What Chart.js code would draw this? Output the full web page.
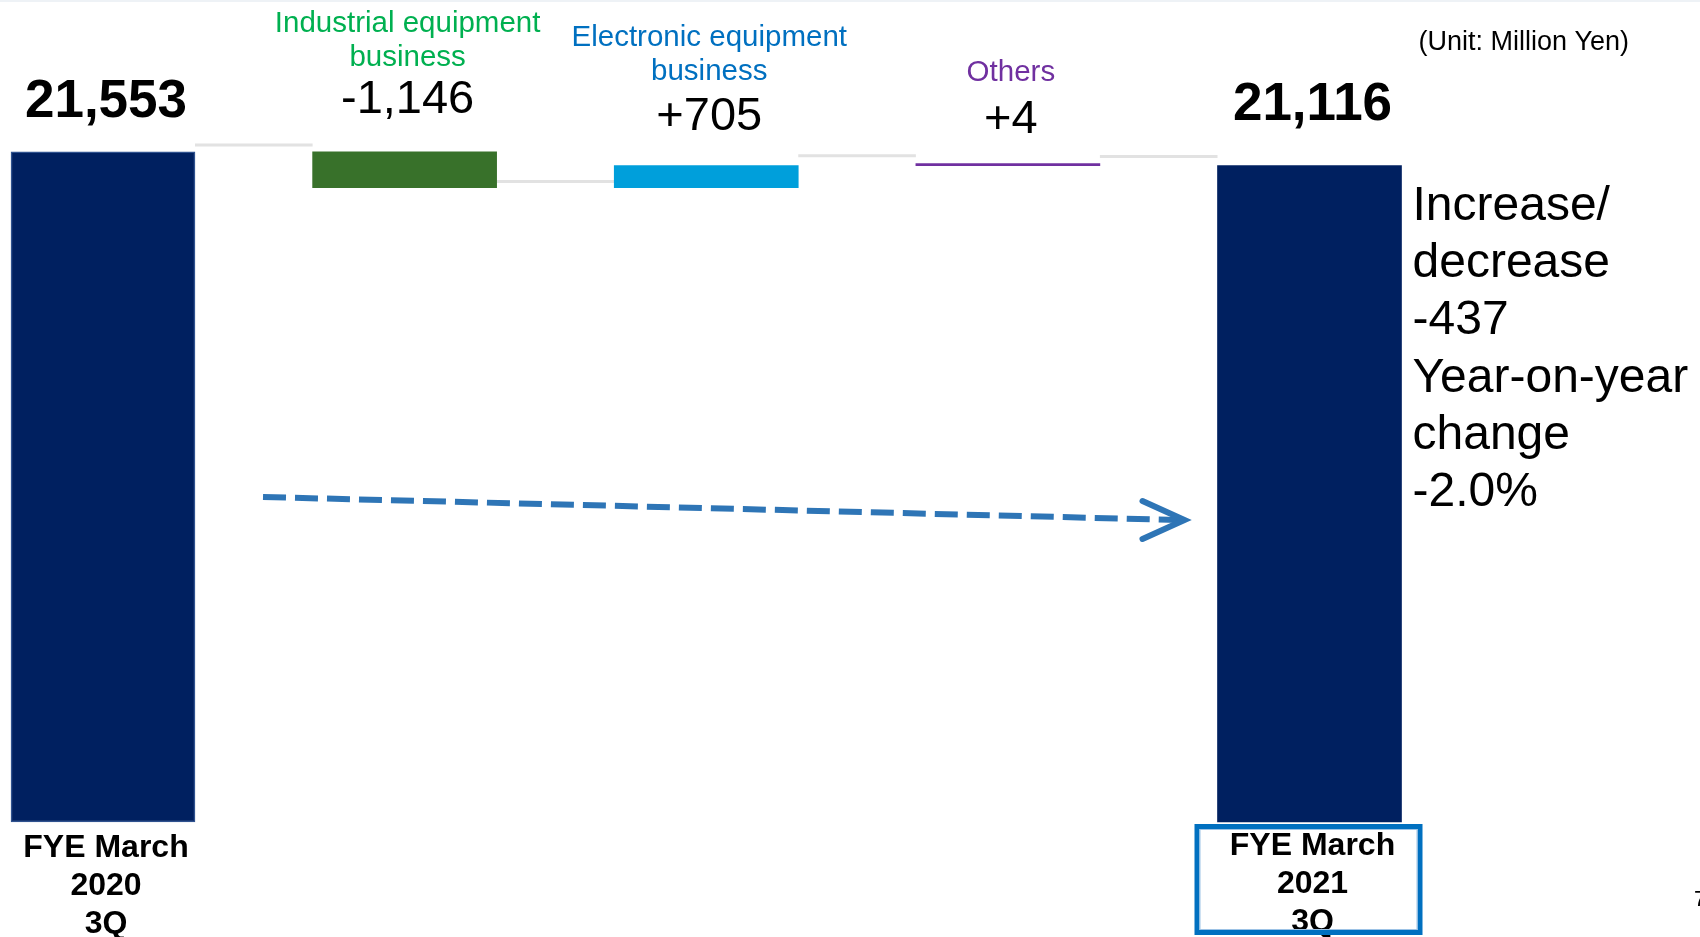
<!DOCTYPE html>
<html lang="en">
<head>
  <meta charset="UTF-8">
  <title>Net Sales Bridge</title>
  <script src="https://cdn.jsdelivr.net/npm/chart.js"></script>
  <style>
    html, body {
      margin: 0;
      padding: 0;
      background: #ffffff;
      overflow: hidden;
    }
    #wrap {
      position: relative;
      width: 1700px;
      height: 937px;
    }
  </style>
</head>
<body>

<div id="wrap">
  <canvas id="bridgeChart" width="1700" height="937"></canvas>
</div>

<script>
  // data
  const categories = [
    ['FYE March', '2020', '3Q'],
    ['Industrial equipment', 'business'],
    ['Electronic equipment', 'business'],
    ['Others'],
    ['FYE March', '2021', '3Q']
  ];
  const startValue = 21553;
  const deltas = [-1146, 705, 4];
  const endValue = 21116;
  const valueLabels = ['21,553', '-1,146', '+705', '+4', '21,116'];
  const noteLines = ['Increase/', 'decrease', '-437', 'Year-on-year', 'change', '-2.0%'];
  const unitLabel = '(Unit: Million Yen)';

  // styles
  const barColors = ['#002060', '#38712a', '#009fdb', '#7030a0', '#002060'];
  const headerColors = ['#000000', '#00b050', '#0070c0', '#7030a0', '#000000'];
  const valueLift = [50, 52, 49, 44, 60];
  const headerGap = [0, 42, 44.5, 47, 0];
  const bottomDrop = [26, 0, 0, 0, 24];
  const connectorLift = [7, 6, 10, 9];
  const FONT = '"Liberation Sans", Arial, sans-serif';

  // build floating ranges + running levels
  const ranges = [[0, startValue]];
  const levels = [startValue];
  let running = startValue;
  deltas.forEach(function (d) {
    const next = running + d;
    ranges.push([Math.min(running, next), Math.max(running, next)]);
    running = next;
    levels.push(running);
  });
  ranges.push([0, endValue]);

  const bridgeExtras = {
    id: 'bridgeExtras',
    beforeDatasetsDraw(chart) {
      const ctx = chart.ctx;
      const bars = chart.getDatasetMeta(0).data;
      const y = chart.scales.y;
      ctx.save();
      // faint slide edge at the top
      ctx.fillStyle = '#eef2f6';
      ctx.fillRect(0, 0, chart.width, 2);
      // connector lines between bars
      ctx.strokeStyle = '#e2e2e2';
      ctx.lineWidth = 3;
      levels.forEach(function (lv, i) {
        const a = bars[i], b = bars[i + 1];
        const py = y.getPixelForValue(lv) - connectorLift[i];
        ctx.beginPath();
        ctx.moveTo(a.x + a.width / 2, py);
        ctx.lineTo(b.x - b.width / 2, py);
        ctx.stroke();
      });
      ctx.restore();
    },
    afterDatasetsDraw(chart) {
      const ctx = chart.ctx;
      const bars = chart.getDatasetMeta(0).data;
      const area = chart.chartArea;
      const last = bars.length - 1;
      ctx.save();
      ctx.textAlign = 'center';
      ctx.textBaseline = 'middle';

      bars.forEach(function (bar, i) {
        const top = Math.min(bar.y, bar.base);
        const isTotal = (i === 0 || i === last);
        const vy = top - valueLift[i];

        // value label
        ctx.fillStyle = '#000000';
        ctx.font = (isTotal ? 'bold 53px ' : '47px ') + FONT;
        ctx.fillText(valueLabels[i], bar.x + 3, vy);

        if (isTotal) {
          // category under the bar
          ctx.font = 'bold 32px ' + FONT;
          categories[i].forEach(function (line, k) {
            ctx.fillText(line, bar.x + 3, area.bottom + bottomDrop[i] + k * 38);
          });
        } else {
          // coloured header above the value
          ctx.fillStyle = headerColors[i];
          ctx.font = '29.5px ' + FONT;
          const lines = categories[i];
          lines.forEach(function (line, k) {
            ctx.fillText(line, bar.x + 3, vy - headerGap[i] - (lines.length - 1 - k) * 34);
          });
        }
      });

      // box around current-year label
      const rb = bars[last];
      const bx0 = rb.x - rb.width / 2 - 23;
      const bx1 = rb.x + rb.width / 2 + 21;
      const by0 = area.bottom + 2;
      const by1 = chart.height - 2;
      ctx.strokeStyle = '#0070c0';
      ctx.lineWidth = 5;
      ctx.strokeRect(bx0 + 2.5, by0 + 2.5, bx1 - bx0 - 5, by1 - by0 - 5);
      ctx.strokeStyle = '#9dc3e6';
      ctx.lineWidth = 1;
      ctx.strokeRect(bx0 + 5.5, by0 + 5.5, bx1 - bx0 - 11, by1 - by0 - 11);

      // dashed trend arrow
      const ax0 = bars[0].x + 160;
      const ax1 = rb.x - 125;
      const ay0 = area.bottom - 325;
      const ay1 = area.bottom - 302;
      ctx.strokeStyle = '#2e75b6';
      ctx.lineWidth = 6;
      ctx.setLineDash([23, 9]);
      ctx.beginPath();
      ctx.moveTo(ax0, ay0);
      ctx.lineTo(ax1 - 6, ay1);
      ctx.stroke();
      ctx.setLineDash([]);
      ctx.lineCap = 'round';
      ctx.lineJoin = 'miter';
      ctx.beginPath();
      ctx.moveTo(ax1 - 42, ay1 - 19);
      ctx.lineTo(ax1, ay1);
      ctx.lineTo(ax1 - 42, ay1 + 19);
      ctx.stroke();

      // side note
      ctx.fillStyle = '#000000';
      ctx.textAlign = 'left';
      ctx.font = '48px ' + FONT;
      const ny = Math.min(rb.y, rb.base) + 41;
      noteLines.forEach(function (line, k) {
        ctx.fillText(line, rb.x + rb.width / 2 + 11, ny + k * 57.3);
      });

      // unit
      ctx.textAlign = 'right';
      ctx.font = '27px ' + FONT;
      ctx.fillText(unitLabel, 1629, 43);

      // page number, cut by the slide edge
      ctx.textAlign = 'left';
      ctx.font = '22px ' + FONT;
      ctx.fillText('7', 1694, 900);
      ctx.restore();
    }
  };

  document.addEventListener('DOMContentLoaded', function () {
    const ctx = document.getElementById('bridgeChart').getContext('2d');
    new Chart(ctx, {
      type: 'bar',
      data: {
        labels: categories.map(function (c) { return c.join(' '); }),
        datasets: [{
          data: ranges,
          backgroundColor: barColors,
          borderColor: ['#2f528f', barColors[1], barColors[2], barColors[3], barColors[4]],
          borderWidth: [1.5, 0, 0, 0, 0],
          borderSkipped: false,
          barThickness: 184,
          minBarLength: 2,
          clip: false
        }]
      },
      options: {
        responsive: false,
        animation: false,
        layout: {
          padding: { left: 103, right: 390.5, top: 0, bottom: 115 }
        },
        plugins: {
          legend: { display: false },
          tooltip: { enabled: false }
        },
        scales: {
          x: {
            type: 'category',
            offset: false,
            display: false,
            grid: { display: false }
          },
          y: {
            min: 0,
            max: 26440,
            display: false,
            grid: { display: false }
          }
        }
      },
      plugins: [bridgeExtras]
    });
  });
</script>

</body>
</html>
